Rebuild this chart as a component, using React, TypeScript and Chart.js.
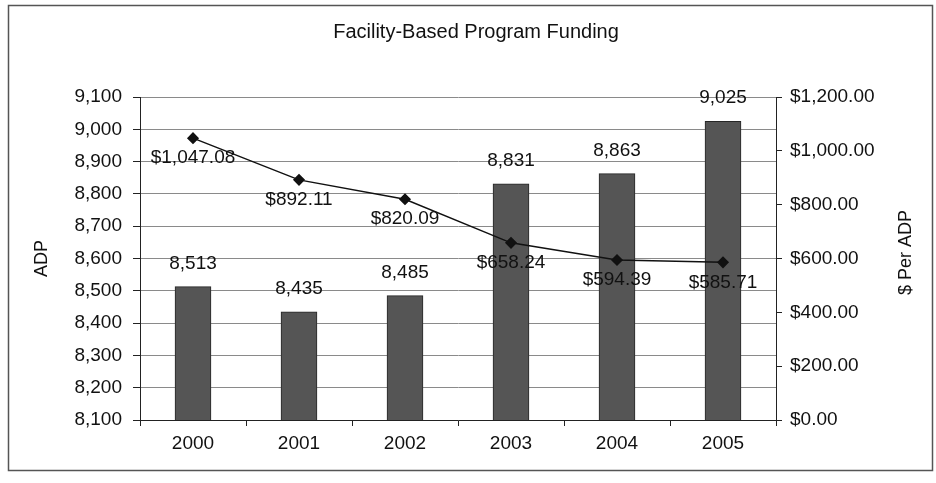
import React, { useEffect, useRef } from "react";
import { Chart, registerables } from "chart.js";

Chart.register(...registerables);

const years = ["2000", "2001", "2002", "2003", "2004", "2005"];
const adp = [8513, 8435, 8485, 8831, 8863, 9025];
const perAdp = [1047.08, 892.11, 820.09, 658.24, 594.39, 585.71];
const chartTitle = "Facility-Based Program Funding";
const leftTitle = "ADP";
const rightTitle = "$ Per ADP";

const FONT = "'Liberation Sans', Arial, sans-serif";

const fmtInt = (v: number) => v.toLocaleString("en-US", { maximumFractionDigits: 0 });
const fmtMoney = (v: number) =>
  "$" + v.toLocaleString("en-US", { minimumFractionDigits: 2, maximumFractionDigits: 2 });

const decorPlugin = {
  id: "decor",
  beforeDraw(chart: any) {
    const ctx = chart.ctx;
    ctx.save();
    ctx.fillStyle = "#ffffff";
    ctx.fillRect(0, 0, chart.width, chart.height);
    ctx.strokeStyle = "#555555";
    ctx.lineWidth = 1.5;
    ctx.strokeRect(8.5, 5.5, 924, 465);
    ctx.restore();
  },
  afterDraw(chart: any) {
    const ctx = chart.ctx;
    const area = chart.chartArea;
    ctx.save();
    ctx.fillStyle = "#111111";
    ctx.textAlign = "center";
    ctx.textBaseline = "middle";
    ctx.font = `20px ${FONT}`;
    ctx.fillText(chartTitle, 476, 32);

    ctx.font = `18px ${FONT}`;
    const cy = (area.top + area.bottom) / 2;
    ctx.save();
    ctx.translate(42, cy);
    ctx.rotate(-Math.PI / 2);
    ctx.fillText(leftTitle, 0, 0);
    ctx.restore();
    ctx.save();
    ctx.translate(906, cy - 6);
    ctx.rotate(-Math.PI / 2);
    ctx.fillText(rightTitle, 0, 0);
    ctx.restore();

    ctx.font = `19px ${FONT}`;
    // bar labels
    const barMeta = chart.getDatasetMeta(0);
    barMeta.data.forEach((el: any, i: number) => {
      ctx.fillText(fmtInt(adp[i]), el.x, el.y - 23);
    });
    // line labels
    const lineMeta = chart.getDatasetMeta(1);
    lineMeta.data.forEach((el: any, i: number) => {
      ctx.fillText(fmtMoney(perAdp[i]), el.x, el.y + 20);
    });
    ctx.restore();
  },
};

export default function App() {
  const ref = useRef<HTMLCanvasElement>(null);
  useEffect(() => {
    if (!ref.current) return;
    const chart = new Chart(ref.current, {
      type: "bar",
      data: {
        labels: years,
        datasets: [
          {
            type: "bar",
            data: adp,
            yAxisID: "y",
            backgroundColor: "#555555",
            borderColor: "#262626",
            borderWidth: 1,
            barThickness: 36,
            order: 2,
          },
          {
            type: "line",
            data: perAdp,
            yAxisID: "y1",
            borderColor: "#111111",
            borderWidth: 1.5,
            backgroundColor: "#111111",
            pointStyle: "rectRot",
            pointRadius: 5,
            pointBackgroundColor: "#111111",
            pointBorderColor: "#111111",
            fill: false,
            tension: 0,
            order: 1,
          },
        ] as any,
      },
      options: {
        animation: false,
        responsive: false,
        maintainAspectRatio: false,
        layout: { padding: { top: 97, left: 0, right: 0, bottom: 0 } },
        plugins: {
          legend: { display: false },
          title: { display: false },
          tooltip: { enabled: false },
        },
        scales: {
          x: {
            afterFit: (s: any) => {
              s.height = 63;
            },
            grid: {
              display: true,
              drawOnChartArea: false,
              drawTicks: true,
              tickLength: 6,
              color: "#222222",
              offset: true,
            },
            border: { display: true, color: "#222222", width: 1 },
            ticks: {
              color: "#111111",
              font: { family: FONT, size: 19 },
              padding: 6,
            },
          },
          y: {
            position: "left",
            min: 8100,
            max: 9100,
            afterFit: (s: any) => {
              s.width = 140;
            },
            grid: {
              color: "#8a8a8a",
              lineWidth: 1,
              drawTicks: true,
              tickLength: 7,
              tickColor: "#222222",
            },
            border: { display: true, color: "#222222", width: 1 },
            ticks: {
              stepSize: 100,
              color: "#111111",
              font: { family: FONT, size: 19 },
              padding: 11,
              callback: (v: any) => fmtInt(Number(v)),
            },
          },
          y1: {
            position: "right",
            min: 0,
            max: 1200,
            afterFit: (s: any) => {
              s.width = 160;
            },
            grid: {
              drawOnChartArea: false,
              drawTicks: true,
              tickLength: 6,
              color: "#222222",
            },
            border: { display: true, color: "#222222", width: 1 },
            ticks: {
              stepSize: 200,
              color: "#111111",
              font: { family: FONT, size: 19 },
              padding: 8,
              callback: (v: any) => fmtMoney(Number(v)),
            },
          },
        },
      } as any,
      plugins: [decorPlugin],
    });
    return () => chart.destroy();
  }, []);
  return (
    <div style={{ position: "fixed", left: 0, top: 0, width: 936, height: 483 }}>
      <canvas ref={ref} width={936} height={483} style={{ width: 936, height: 483 }} />
    </div>
  );
}
